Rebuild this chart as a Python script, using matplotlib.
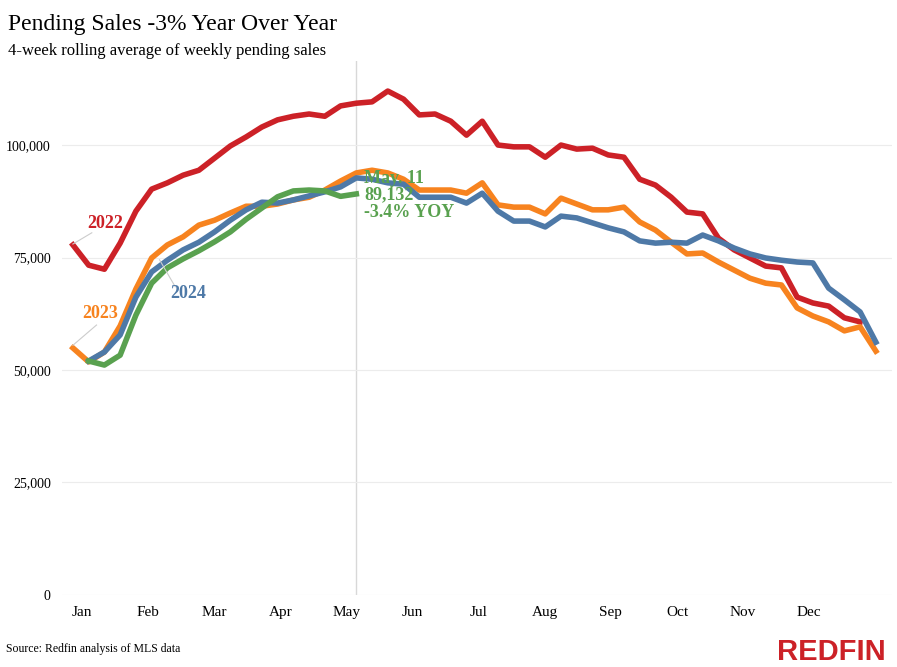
import matplotlib.pyplot as plt

plt.rcParams['font.family'] = ['Liberation Serif', 'DejaVu Serif']

months = ['Jan', 'Feb', 'Mar', 'Apr', 'May', 'Jun', 'Jul', 'Aug', 'Sep', 'Oct', 'Nov', 'Dec']

# weekly pending sales, thousands
s2022 = [77.8, 73.3, 72.4, 78.2, 85.3, 90.2, 91.6, 93.3, 94.4, 97.1, 99.8, 101.8, 104, 105.6,
         106.4, 106.9, 106.4, 108.7, 109.3, 109.6, 112, 110.2, 106.7, 106.9, 105.3, 102.2, 105.3,
         100, 99.6, 99.6, 97.3, 100, 99.1, 99.3, 97.8, 97.3, 92.4, 91.1, 88.4, 85.1, 84.7, 79.3,
         76.7, 74.9, 73.1, 72.7, 66.2, 64.9, 64.2, 61.6, 60.7]
s2023 = [54.9, 51.8, 54, 59.8, 68, 74.9, 77.8, 79.6, 82.2, 83.3, 84.9, 86.4, 86.4, 86.9, 87.8,
         88.4, 90, 92, 93.8, 94.4, 93.8, 92.4, 90, 90, 90, 89.3, 91.6, 86.7, 86.2, 86.2, 84.7,
         88.2, 86.9, 85.6, 85.6, 86.2, 82.9, 81.1, 78.4, 75.8, 76, 74, 72.2, 70.4, 69.3, 68.9,
         63.8, 62, 60.7, 58.7, 59.6, 54.2]
s2024 = [52, 54, 57.8, 66.2, 71.8, 74.4, 76.7, 78.4, 80.7, 83.3, 85.6, 87.3, 87.1, 87.8, 88.7,
         89.6, 90.7, 92.7, 92.4, 91.6, 91.3, 88.4, 88.4, 88.4, 87.1, 89.3, 85.3, 83.1, 83.1, 81.8,
         84.2, 83.8, 82.7, 81.6, 80.7, 78.7, 78.2, 78.4, 78.2, 80, 78.7, 77.1, 75.8, 74.9, 74.4,
         74, 73.8, 68.2, 65.6, 62.9, 56.2]
s2025 = [52, 51.1, 53.3, 62.2, 69.3, 72.7, 74.7, 76.5, 78.5, 80.7, 83.5, 86, 88.5, 89.8, 90,
         89.8, 88.6, 89.132]

red, orange, blue, green = '#cc2127', '#f7831f', '#4e79a7', '#59a14f'

fig = plt.figure(figsize=(8.97, 6.67), dpi=100)
ax = fig.add_axes([0.069, 0.108, 0.925, 0.80])

lw = 4
ax.plot(range(len(s2022)), [v * 1000 for v in s2022], color=red, lw=lw)
ax.plot(range(len(s2023)), [v * 1000 for v in s2023], color=orange, lw=lw)
ax.plot(range(1, len(s2024) + 1), [v * 1000 for v in s2024], color=blue, lw=lw)
ax.plot(range(1, len(s2025) + 1), [v * 1000 for v in s2025], color=green, lw=lw)

ax.axvline(len(s2025), color='#d8d8d8', lw=1, zorder=0)

ax.set_ylim(0, 118600)
ax.set_xlim(-0.7, 52.0)
ax.set_yticks([0, 25000, 50000, 75000, 100000])
ax.set_yticklabels(['0', '25,000', '50,000', '75,000', '100,000'], fontsize=10)
ax.set_xticks([0.57 + 4.2 * k for k in range(12)])
ax.set_xticklabels(months, fontsize=11)
ax.grid(axis='y', color='#ececec', lw=0.8)
ax.tick_params(length=0, pad=8)
for s in ax.spines.values():
    s.set_visible(False)

bold = dict(fontsize=13, fontweight='bold')
ax.text(0.9, 81500, '2022', color=red, **bold)
ax.plot([0, 1.2], [78000, 80500], color='#cccccc', lw=0.8)
ax.text(0.6, 61500, '2023', color=orange, **bold)
ax.plot([0, 1.5], [55500, 60000], color='#cccccc', lw=0.8)
ax.text(6.2, 66000, '2024', color=blue, **bold)
ax.plot([6.5, 5.5], [68500, 74500], color='#cccccc', lw=0.8)
ax.text(18.5, 91500, 'May. 11', color=green, **bold)
ax.text(18.5, 88000, '89,132', color=green, **bold)
ax.text(18.5, 84000, '-3.4% YOY', color=green, **bold)

fig.text(0.009, 0.955, 'Pending Sales -3% Year Over Year', fontsize=17)
fig.text(0.009, 0.918, '4-week rolling average of weekly pending sales', fontsize=12)
fig.text(0.007, 0.022, 'Source: Redfin analysis of MLS data', fontsize=8.5)
fig.text(0.988, 0.01, 'REDFIN', fontsize=21, fontweight='bold', color=red,
         family='Liberation Sans', ha='right')

fig.savefig('out.png')
